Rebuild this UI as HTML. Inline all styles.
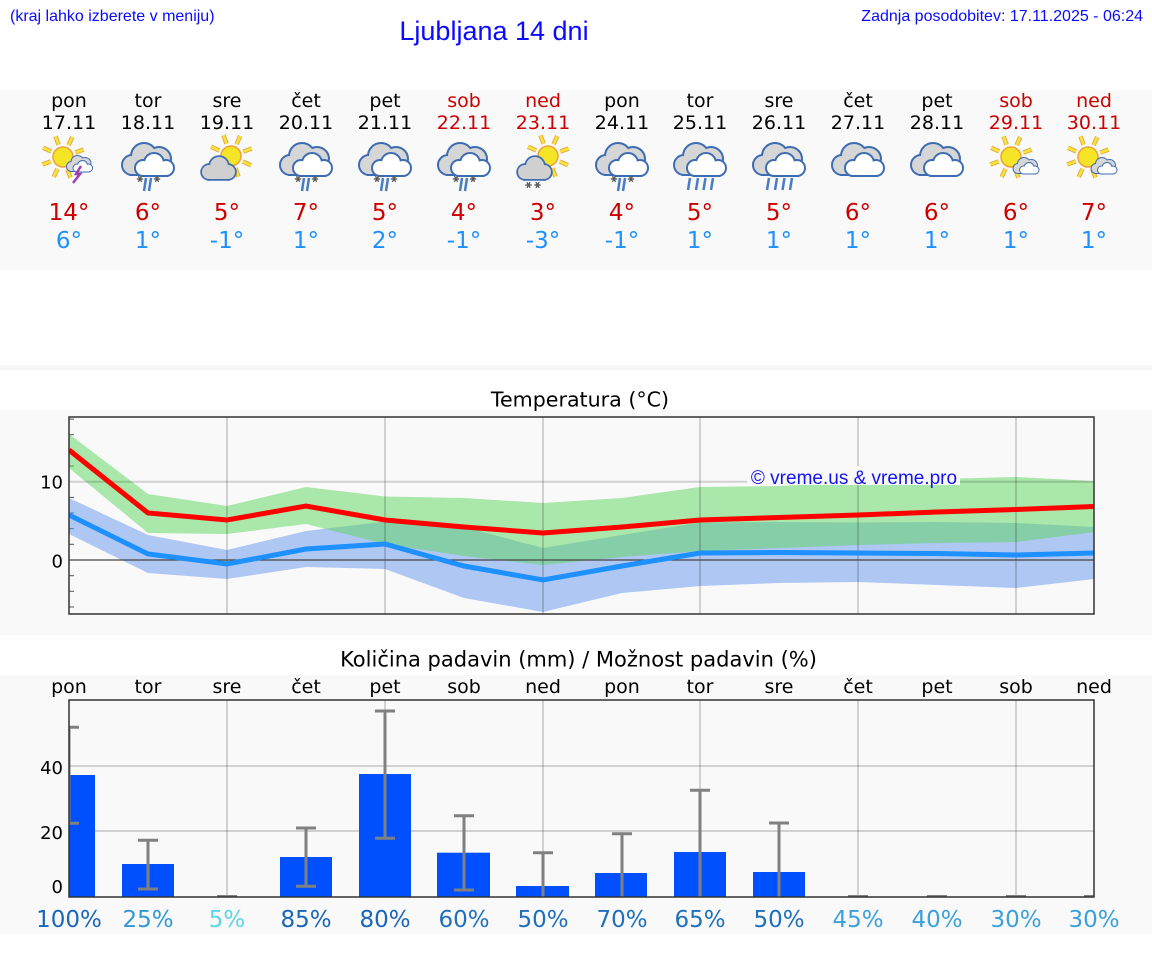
<!DOCTYPE html>
<html><head><meta charset="utf-8">
<style>
html,body{margin:0;padding:0;background:#fff;}
svg{display:block;}
.d{font-family:"DejaVu Sans","Liberation Sans",sans-serif;}
.a{font-family:"Liberation Sans",Arial,sans-serif;}
</style></head><body>
<svg width="1152" height="975" viewBox="0 0 1152 975" xmlns="http://www.w3.org/2000/svg">
<defs>
 <g id="bs"><circle cx="-16" cy="5" r="9"/><circle cx="-4" cy="-4" r="12"/><circle cx="11" cy="-1" r="11"/><rect x="-16" y="4" width="27" height="10"/></g>
 <g id="fs"><circle cx="-5" cy="8" r="7"/><circle cx="6" cy="3" r="9"/><circle cx="18" cy="8" r="7"/><rect x="-5" y="8" width="23" height="7"/></g>
 <g id="dc">
   <use href="#bs" fill="#d6d6d6" stroke="#3d6cb3" stroke-width="4"/>
   <use href="#bs" fill="#d6d6d6"/>
   <use href="#fs" fill="#fff" stroke="#3d6cb3" stroke-width="4"/>
   <use href="#fs" fill="#fff"/>
 </g>
 <g id="ss"><circle cx="-9" cy="4" r="7"/><circle cx="1" cy="-2" r="9"/><circle cx="10" cy="4" r="7"/><rect x="-9" y="4" width="19" height="7"/></g>
 <g id="sc">
   <use href="#ss" fill="#d0d0d0" stroke="#3d6cb3" stroke-width="3.5"/>
   <use href="#ss" fill="#d0d0d0"/>
 </g>
 <g id="rays">
   <line x1="12.2" y1="-4.4" x2="20.7" y2="-7.5"/>
   <line x1="11.8" y1="5.5" x2="20" y2="9.3"/>
   <line x1="4.4" y1="12.2" x2="7.5" y2="20.7"/>
   <line x1="-5.5" y1="11.8" x2="-9.3" y2="20"/>
   <line x1="-12.2" y1="4.4" x2="-20.7" y2="7.5"/>
   <line x1="-11.8" y1="-5.5" x2="-20" y2="-9.3"/>
   <line x1="-4.4" y1="-12.2" x2="-7.5" y2="-20.7"/>
   <line x1="5.5" y1="-11.8" x2="9.3" y2="-20"/>
 </g>
 <g id="sun">
   <use href="#rays" stroke="#e6a848" stroke-width="4.5"/>
   <use href="#rays" stroke="#f4e43a" stroke-width="2.6"/>
   <circle r="10" fill="#f6e426" stroke="#eea23a" stroke-width="1.5"/>
 </g>
 <g id="ast" stroke="#555" stroke-width="1.3">
   <line x1="-3.2" y1="0" x2="3.2" y2="0"/><line x1="-1.6" y1="-2.8" x2="1.6" y2="2.8"/><line x1="1.6" y1="-2.8" x2="-1.6" y2="2.8"/>
 </g>
 <g id="sl">
   <use href="#ast" x="-8" y="19"/><use href="#ast" x="9" y="19"/>
   <g stroke="#4a7cc4" stroke-width="2.5"><line x1="-2" y1="18" x2="-4" y2="31"/><line x1="3" y1="18" x2="1" y2="31"/></g>
 </g>
 <g id="rn" stroke="#4a7cc4" stroke-width="2.5">
   <line x1="-10" y1="18" x2="-12" y2="30"/><line x1="-2" y1="18" x2="-4" y2="30"/><line x1="5.5" y1="18" x2="3.5" y2="30"/><line x1="13" y1="18" x2="11" y2="30"/>
 </g>
 <clipPath id="ct"><rect x="69" y="417" width="1025" height="197"/></clipPath>
 <clipPath id="cp"><rect x="69" y="700" width="1025" height="197"/></clipPath>
</defs>

<!-- backgrounds -->
<rect x="0" y="0" width="1152" height="975" fill="#fff"/>
<rect x="0" y="90" width="1152" height="180" fill="#f9f9f9"/>
<rect x="0" y="365" width="1152" height="5" fill="#f6f6f6"/>
<rect x="0" y="410" width="1152" height="225" fill="#f9f9f9"/>
<rect x="0" y="675" width="1152" height="259" fill="#f9f9f9"/>

<!-- header -->
<text x="10" y="21" class="a" font-size="16" fill="#0a0aff">(kraj lahko izberete v meniju)</text>
<text x="494" y="40" class="a" font-size="27" fill="#0a0aff" text-anchor="middle">Ljubljana 14 dni</text>
<text x="1143" y="21" class="a" font-size="16" fill="#0a0aff" text-anchor="end">Zadnja posodobitev: 17.11.2025 - 06:24</text>

<!-- day names -->
<g class="d" font-size="19" text-anchor="middle" fill="#000">
 <text x="69" y="107">pon</text><text x="148" y="107">tor</text><text x="227" y="107">sre</text><text x="306" y="107">čet</text><text x="385" y="107">pet</text>
 <text x="464" y="107" fill="#cc0000">sob</text><text x="543" y="107" fill="#cc0000">ned</text>
 <text x="622" y="107">pon</text><text x="700" y="107">tor</text><text x="779" y="107">sre</text><text x="858" y="107">čet</text><text x="937" y="107">pet</text>
 <text x="1016" y="107" fill="#cc0000">sob</text><text x="1094" y="107" fill="#cc0000">ned</text>
 <text x="69" y="129">17.11</text><text x="148" y="129">18.11</text><text x="227" y="129">19.11</text><text x="306" y="129">20.11</text><text x="385" y="129">21.11</text>
 <text x="464" y="129" fill="#cc0000">22.11</text><text x="543" y="129" fill="#cc0000">23.11</text>
 <text x="622" y="129">24.11</text><text x="700" y="129">25.11</text><text x="779" y="129">26.11</text><text x="858" y="129">27.11</text><text x="937" y="129">28.11</text>
 <text x="1016" y="129" fill="#cc0000">29.11</text><text x="1094" y="129" fill="#cc0000">30.11</text>
</g>

<!-- icons -->
<g transform="translate(69,160)">
 <use href="#sun" x="-6" y="-3"/>
 <g transform="translate(10.5,4) scale(0.5)"><use href="#dc"/></g>
 <polyline points="12,6 7,14 11,14 4,23" fill="none" stroke="#a040b0" stroke-width="2.5"/>
</g>
<g transform="translate(148,160)"><use href="#dc"/><use href="#sl"/></g>
<g transform="translate(227,160)"><use href="#sun" x="4" y="-4"/><use href="#sc" x="-9" y="8"/></g>
<g transform="translate(306,160)"><use href="#dc"/><use href="#sl"/></g>
<g transform="translate(385,160)"><use href="#dc"/><use href="#sl"/></g>
<g transform="translate(464,160)"><use href="#dc"/><use href="#sl"/></g>
<g transform="translate(543,160)"><use href="#sun" x="5" y="-4"/><use href="#sc" x="-9" y="8"/><use href="#ast" x="-14.5" y="25"/><use href="#ast" x="-5.5" y="25"/></g>
<g transform="translate(622,160)"><use href="#dc"/><use href="#sl"/></g>
<g transform="translate(700,160)"><use href="#dc"/><use href="#rn"/></g>
<g transform="translate(779,160)"><use href="#dc"/><use href="#rn"/></g>
<g transform="translate(858,160)"><use href="#dc"/></g>
<g transform="translate(937,160)"><use href="#dc"/></g>
<g transform="translate(1016,160)"><use href="#sun" x="-5" y="-3"/><g transform="translate(10,6) scale(0.5)"><use href="#dc"/></g></g>
<g transform="translate(1094,160)"><use href="#sun" x="-6" y="-3"/><g transform="translate(10,6) scale(0.5)"><use href="#dc"/></g></g>

<!-- temps -->
<g class="d" font-size="23" text-anchor="middle" fill="#cc0000">
 <text x="69" y="220">14°</text><text x="148" y="220">6°</text><text x="227" y="220">5°</text><text x="306" y="220">7°</text><text x="385" y="220">5°</text><text x="464" y="220">4°</text><text x="543" y="220">3°</text><text x="622" y="220">4°</text><text x="700" y="220">5°</text><text x="779" y="220">5°</text><text x="858" y="220">6°</text><text x="937" y="220">6°</text><text x="1016" y="220">6°</text><text x="1094" y="220">7°</text>
</g>
<g class="d" font-size="23" text-anchor="middle" fill="#1e90ff">
 <text x="69" y="248">6°</text><text x="148" y="248">1°</text><text x="227" y="248">-1°</text><text x="306" y="248">1°</text><text x="385" y="248">2°</text><text x="464" y="248">-1°</text><text x="543" y="248">-3°</text><text x="622" y="248">-1°</text><text x="700" y="248">1°</text><text x="779" y="248">1°</text><text x="858" y="248">1°</text><text x="937" y="248">1°</text><text x="1016" y="248">1°</text><text x="1094" y="248">1°</text>
</g>

<!-- temperature chart -->
<text x="580" y="406.5" class="d" font-size="20.6" text-anchor="middle" fill="#000">Temperatura (°C)</text>
<rect x="69" y="417" width="1025" height="197" fill="#f9f9f9"/>
<g stroke="#555" stroke-width="1">
 <line x1="69" y1="419.1" x2="74" y2="419.1"/><line x1="69" y1="434.7" x2="74" y2="434.7"/><line x1="69" y1="450.4" x2="74" y2="450.4"/><line x1="69" y1="466" x2="74" y2="466"/><line x1="69" y1="497.4" x2="74" y2="497.4"/><line x1="69" y1="513" x2="74" y2="513"/><line x1="69" y1="528.7" x2="74" y2="528.7"/><line x1="69" y1="544.3" x2="74" y2="544.3"/><line x1="69" y1="575.7" x2="74" y2="575.7"/><line x1="69" y1="591.3" x2="74" y2="591.3"/><line x1="69" y1="607" x2="74" y2="607"/>
</g>
<g clip-path="url(#ct)">
 <polygon points="69,498 148,535 227,550 306,531 385,521.5 464,527 543,548 622,535 700,522.5 779,522 858,522.5 937,522 1016,523 1094,527 1094,579 1016,588 937,585 858,582 779,583 700,586 622,593 543,612 464,598 385,569 306,567 227,579 148,573 69,534" fill="#6495ed" fill-opacity="0.5"/>
 <polygon points="69,434 148,494 227,506 306,487 385,496.5 464,498 543,503 622,498 700,487 779,486 858,482 937,479 1016,477 1094,481 1094,532 1016,542 937,543 858,545 779,548 700,551 622,557 543,565 464,556 385,544 306,524 227,534 148,533 69,468" fill="#5cd65c" fill-opacity="0.5"/>
 <g stroke="#000" stroke-opacity="0.16" stroke-width="2">
  <line x1="227" y1="417" x2="227" y2="614"/><line x1="385" y1="417" x2="385" y2="614"/><line x1="543" y1="417" x2="543" y2="614"/><line x1="700" y1="417" x2="700" y2="614"/><line x1="858" y1="417" x2="858" y2="614"/><line x1="1016" y1="417" x2="1016" y2="614"/>
  <line x1="69" y1="481.7" x2="1094" y2="481.7"/>
 </g>
 <line x1="69" y1="560" x2="1094" y2="560" stroke="#444" stroke-width="1.2"/>
 <polyline points="69,515 148,554 227,564 306,549 385,544 464,566 543,580 622,566 700,553 779,552.5 858,553 937,553.5 1016,555 1094,553" fill="none" stroke="#1e90ff" stroke-width="5"/>
 <polyline points="69,450 148,513 227,520 306,506 385,520 464,527 543,533 622,527 700,520 779,517.5 858,515 937,512 1016,509.5 1094,506.5" fill="none" stroke="#ff0000" stroke-width="5"/>
</g>
<rect x="69" y="417" width="1025" height="197" fill="none" stroke="#333" stroke-width="1.5"/>
<g class="d" font-size="18" text-anchor="end" fill="#000">
 <text x="63" y="488.5">10</text><text x="63" y="567.5">0</text>
</g>
<rect x="747" y="466" width="213" height="19" fill="#f9f9f9"/>
<text x="854" y="484" class="a" font-size="19" text-anchor="middle" fill="#1414f0">© vreme.us &amp; vreme.pro</text>

<!-- precipitation chart -->
<text x="578.5" y="666.5" class="d" font-size="21" text-anchor="middle" fill="#000">Količina padavin (mm) / Možnost padavin (%)</text>
<g class="d" font-size="19" text-anchor="middle" fill="#000">
 <text x="69" y="693">pon</text><text x="148" y="693">tor</text><text x="227" y="693">sre</text><text x="306" y="693">čet</text><text x="385" y="693">pet</text><text x="464" y="693">sob</text><text x="543" y="693">ned</text><text x="622" y="693">pon</text><text x="700" y="693">tor</text><text x="779" y="693">sre</text><text x="858" y="693">čet</text><text x="937" y="693">pet</text><text x="1016" y="693">sob</text><text x="1094" y="693">ned</text>
</g>
<rect x="69" y="700" width="1025" height="197" fill="#f9f9f9"/>
<g stroke="#000" stroke-opacity="0.16" stroke-width="2">
 <line x1="227" y1="700" x2="227" y2="897"/><line x1="385" y1="700" x2="385" y2="897"/><line x1="543" y1="700" x2="543" y2="897"/><line x1="700" y1="700" x2="700" y2="897"/><line x1="858" y1="700" x2="858" y2="897"/><line x1="1016" y1="700" x2="1016" y2="897"/>
 <line x1="69" y1="766" x2="1094" y2="766"/><line x1="69" y1="831" x2="1094" y2="831"/>
</g>
<g clip-path="url(#cp)">
 <g fill="#0050ff">
  <rect x="43" y="775" width="52" height="122"/>
  <rect x="122" y="864" width="52" height="33"/>
  <rect x="280" y="857" width="52" height="40"/>
  <rect x="359" y="774" width="52" height="123"/>
  <rect x="437" y="852.7" width="53" height="44.3"/>
  <rect x="516" y="886" width="53" height="11"/>
  <rect x="595" y="873" width="52" height="24"/>
  <rect x="674" y="852" width="52" height="45"/>
  <rect x="753" y="872" width="52" height="25"/>
 </g>
 <g stroke="#808080" stroke-width="3" fill="none">
  <path d="M69 727.3V823.3M59 727.3H79M59 823.3H79"/>
  <path d="M148 840.3V889M138 840.3H158M138 889H158"/>
  <path d="M217 896.5H237"/>
  <path d="M306 828V886.3M296 828H316M296 886.3H316"/>
  <path d="M385 711V838.3M375 711H395M375 838.3H395"/>
  <path d="M464 815.7V890M454 815.7H474M454 890H474"/>
  <path d="M543 852.7V897M533 852.7H553"/>
  <path d="M622 833.7V897M612 833.7H632"/>
  <path d="M700 790.3V897M690 790.3H710"/>
  <path d="M779 823V897M769 823H789"/>
  <path d="M848 896.5H868M927 896.5H947M1006 896.5H1026M1084 896.5H1104"/>
 </g>
</g>
<rect x="69" y="700" width="1025" height="197" fill="none" stroke="#333" stroke-width="1.5"/>
<g class="d" font-size="18" text-anchor="end" fill="#000">
 <text x="63" y="774">40</text><text x="63" y="839">20</text><text x="63" y="893">0</text>
</g>
<g class="d" font-size="23" text-anchor="middle">
 <text x="69" y="927" fill="#1a66b8">100%</text>
 <text x="148" y="927" fill="#3399d6">25%</text>
 <text x="227" y="927" fill="#5bd6e6">5%</text>
 <text x="306" y="927" fill="#1a66b8">85%</text>
 <text x="385" y="927" fill="#1a66b8">80%</text>
 <text x="464" y="927" fill="#1f6fbf">60%</text>
 <text x="543" y="927" fill="#1f6fbf">50%</text>
 <text x="622" y="927" fill="#1f6fbf">70%</text>
 <text x="700" y="927" fill="#1f6fbf">65%</text>
 <text x="779" y="927" fill="#1f6fbf">50%</text>
 <text x="858" y="927" fill="#3ba0dc">45%</text>
 <text x="937" y="927" fill="#3ba0dc">40%</text>
 <text x="1016" y="927" fill="#3ba0dc">30%</text>
 <text x="1094" y="927" fill="#3ba0dc">30%</text>
</g>
</svg>
</body></html>
